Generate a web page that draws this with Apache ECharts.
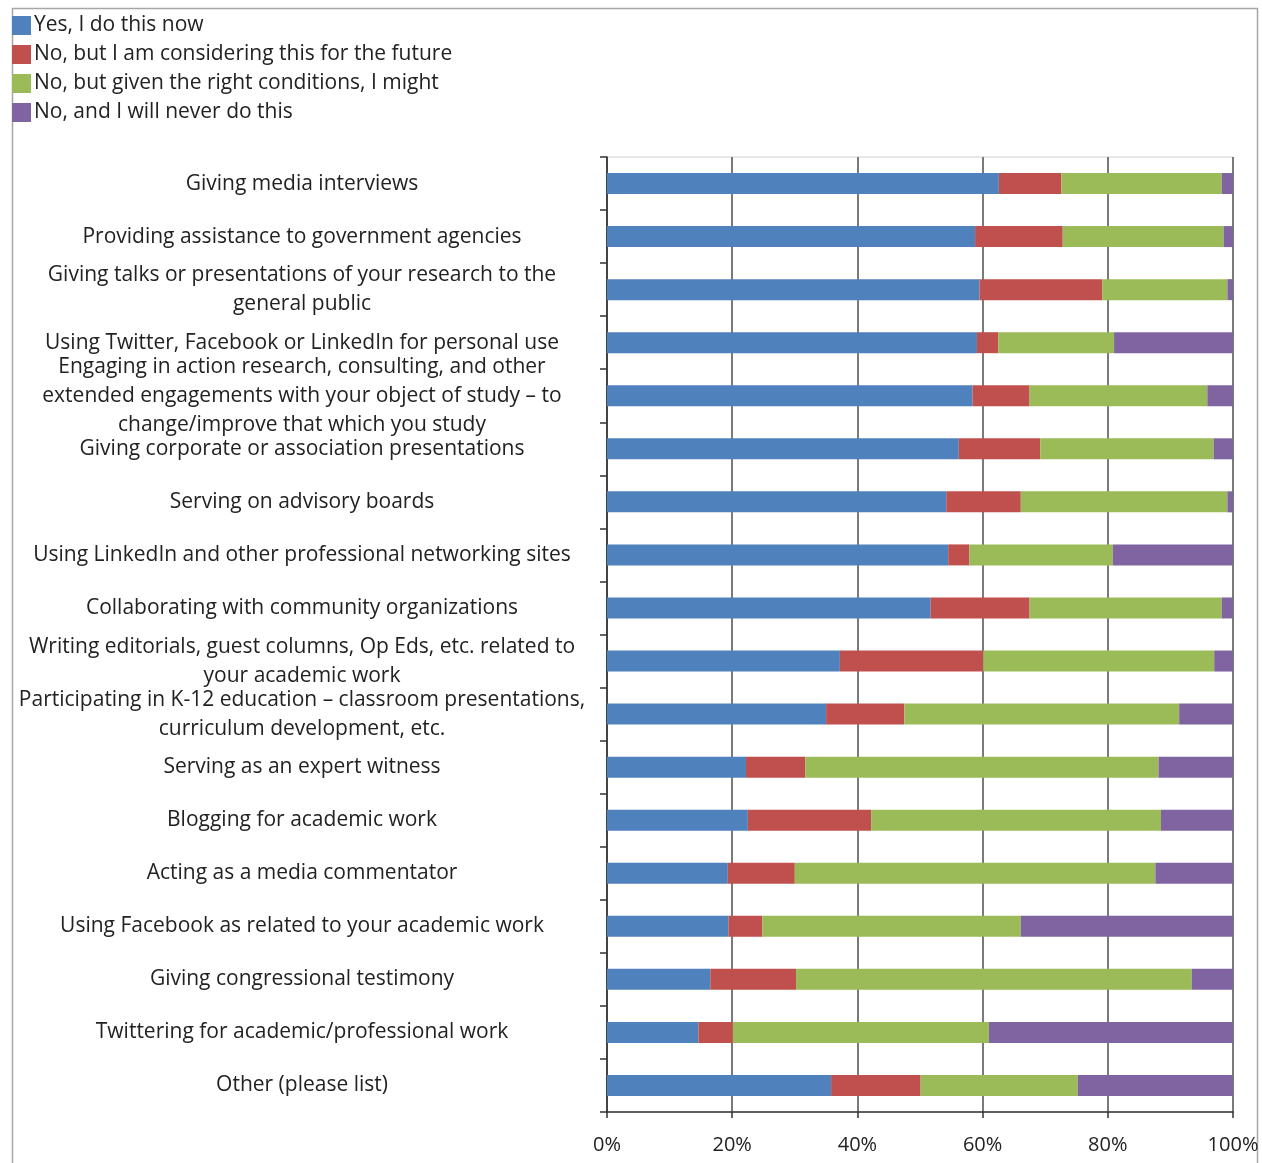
<!DOCTYPE html>
<html>
<head>
<meta charset="utf-8">
<script src="https://cdn.jsdelivr.net/npm/echarts@6/dist/echarts.min.js"></script>
<style>
html,body{margin:0;padding:0;background:#fff;}
#c{width:1262px;height:1163px;}
</style>
</head>
<body>
<div id="c"></div>
<script>
const categories = [
  "Giving media interviews",
  "Providing assistance to government agencies",
  "Giving talks or presentations of your research to the\ngeneral public",
  "Using Twitter, Facebook or LinkedIn for personal use",
  "Engaging in action research, consulting, and other\nextended engagements with your object of study – to\nchange/improve that which you study",
  "Giving corporate or association presentations",
  "Serving on advisory boards",
  "Using LinkedIn and other professional networking sites",
  "Collaborating with community organizations",
  "Writing editorials, guest columns, Op Eds, etc. related to\nyour academic work",
  "Participating in K-12 education – classroom presentations,\ncurriculum development, etc.",
  "Serving as an expert witness",
  "Blogging for academic work",
  "Acting as a media commentator",
  "Using Facebook as related to your academic work",
  "Giving congressional testimony",
  "Twittering for academic/professional work",
  "Other (please list)"
];
const seriesNames = [
  "Yes, I do this now",
  "No, but I am considering this for the future",
  "No, but given the right conditions, I might",
  "No, and I will never do this"
];
const yesNow      = [62.6, 58.8, 59.5, 59.1, 58.4, 56.2, 54.2, 54.5, 51.7, 37.2, 35.0, 22.2, 22.5, 19.3, 19.4, 16.5, 14.6, 35.8];
const considering = [10.0, 14.0, 19.6,  3.4,  9.1, 13.0, 11.9,  3.4, 15.8, 22.9, 12.5,  9.5, 19.7, 10.7,  5.4, 13.7,  5.5, 14.3];
const rightCond   = [25.6, 25.7, 20.0, 18.5, 28.4, 27.7, 33.0, 22.9, 30.7, 36.9, 43.9, 56.4, 46.3, 57.6, 41.3, 63.2, 40.9, 25.1];
const never       = [ 1.8,  1.5,  0.9, 19.0,  4.1,  3.1,  0.9, 19.2,  1.8,  3.0,  8.6, 11.9, 11.5, 12.4, 33.9,  6.6, 39.0, 24.8];
const xTicks = [0, 20, 40, 60, 80, 100];

const colors = ["#4F81BD", "#C0504D", "#9BBB59", "#8064A2"];
const dataSets = [yesNow, considering, rightCond, never];
const FONT = "Open Sans";

const chart = echarts.init(document.getElementById('c'), null, {renderer: 'canvas'});
chart.setOption({
  animation: false,
  backgroundColor: '#fff',
  color: colors,
  textStyle: {fontFamily: FONT},
  graphic: [{
    type: 'rect',
    shape: {x: 12.5, y: 8.5, width: 1245, height: 1200},
    style: {fill: 'none', stroke: '#a6a6a6', lineWidth: 1.5},
    z: -1
  }],
  legend: {
    orient: 'vertical',
    left: 12,
    top: 15,
    padding: 0,
    itemWidth: 19,
    itemHeight: 19,
    itemGap: 8,
    icon: 'rect',
    selectedMode: false,
    textStyle: {fontFamily: FONT, fontSize: 21, color: '#222', padding: [0, 0, 0, -2]},
    data: seriesNames
  },
  grid: {
    left: 607, right: 29, top: 157, bottom: 51,
    show: true, borderColor: '#d0d0d0', borderWidth: 1
  },
  xAxis: {
    type: 'value',
    min: xTicks[0], max: xTicks[xTicks.length - 1], interval: xTicks[1] - xTicks[0],
    axisLine: {show: true, lineStyle: {color: '#333', width: 1.5}},
    axisTick: {show: true, length: 6, lineStyle: {color: '#333', width: 1.5}},
    splitLine: {show: true, lineStyle: {color: '#7a7a7a', width: 2}},
    axisLabel: {
      formatter: function (v) { return v + '%'; },
      fontFamily: FONT, fontSize: 20, color: '#222', margin: 23
    }
  },
  yAxis: {
    type: 'category',
    inverse: true,
    data: categories,
    axisLine: {show: true, lineStyle: {color: '#333', width: 1.5}},
    axisTick: {show: true, length: 7, lineStyle: {color: '#333', width: 1.5}},
    axisLabel: {
      align: 'center',
      margin: 305,
      padding: [10, 0, 0, 0],
      fontFamily: FONT, fontSize: 21, color: '#222', lineHeight: 29
    }
  },
  series: dataSets.map(function (d, i) {
    return {
      name: seriesNames[i],
      type: 'bar',
      stack: 'total',
      barWidth: 21,
      data: d,
      itemStyle: {color: colors[i]}
    };
  })
});
</script>
</body>
</html>
